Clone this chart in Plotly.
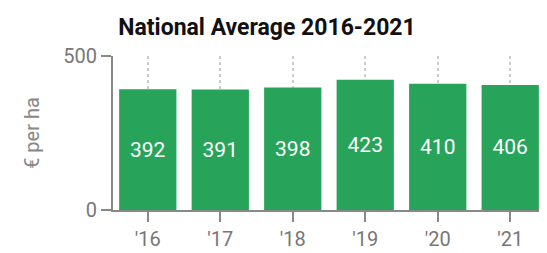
import plotly.graph_objects as go

categories = ["'16", "'17", "'18", "'19", "'20", "'21"]
values = [392, 391, 398, 423, 410, 406]
y_ticks = [0, 500]

green = "#27a45a"
gray = "#888888"

fig = go.Figure(go.Bar(
    x=list(range(len(categories))), y=values,
    text=[str(v) for v in values], textposition="inside", insidetextanchor="middle",
    textfont=dict(family="Roboto", size=21, color="white"),
    marker=dict(color=green, line=dict(width=0)),
    width=0.79,
))

fig.update_layout(
    width=547, height=253,
    margin=dict(l=105, r=10, t=48, b=45),
    paper_bgcolor="white", plot_bgcolor="white",
    title=dict(text="<b>National Average 2016-2021</b>", x=259/547, xanchor="center",
               y=1-19/253, yanchor="middle",
               font=dict(family="Roboto", size=23, color="#111111")),
    showlegend=False,
    font=dict(family="Roboto"),
)
fig.update_xaxes(
    range=[-0.48, 5.48], tickmode="array", tickvals=list(range(len(categories))), ticktext=categories,
    ticks="outside", ticklen=10, tickcolor=gray, tickwidth=2,
    showline=True, linecolor=gray, linewidth=2,
    showgrid=True, gridcolor="#cccccc", griddash="dot", gridwidth=1.5,
    tickfont=dict(family="Roboto", size=20, color="#777777"),
    zeroline=False,
)
fig.update_yaxes(
    range=[0, 500], tickmode="array", tickvals=y_ticks,
    ticks="outside", ticklen=10, tickcolor=gray, tickwidth=2,
    showline=True, linecolor=gray, linewidth=2,
    showgrid=True, gridcolor="#cccccc", griddash="dot", gridwidth=1.5,
    tickfont=dict(family="Roboto", size=20, color="#777777"),
    title=dict(text="€ per ha", font=dict(family="Roboto", size=20, color="#888888"), standoff=18),
    zeroline=False,
)

fig.write_html("out.html")
